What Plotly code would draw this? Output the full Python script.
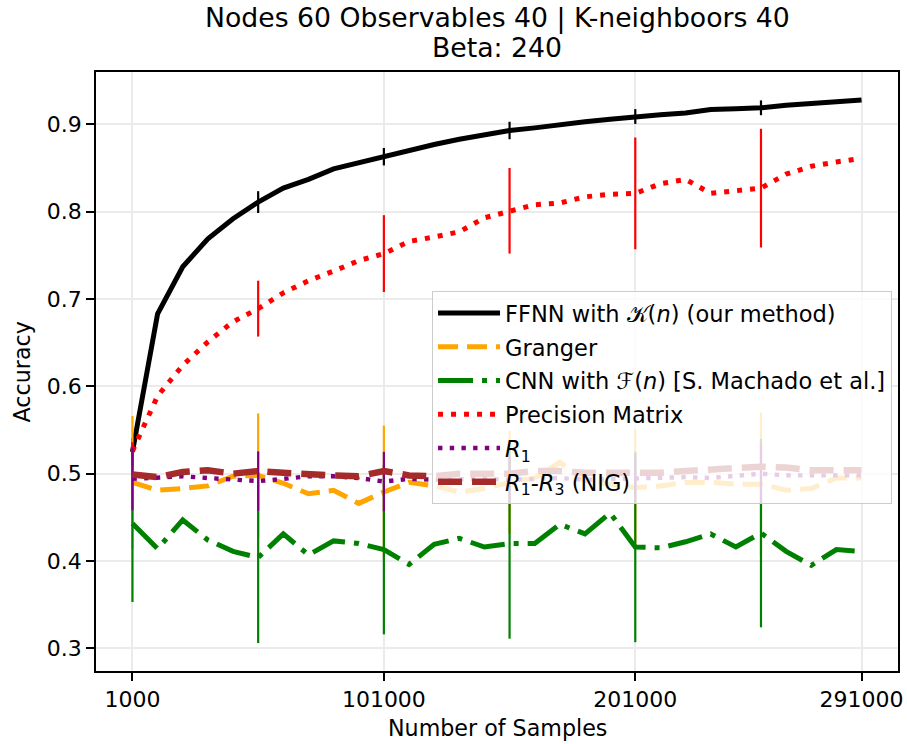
import plotly.graph_objects as go

samples = [1000 + 10000 * i for i in range(30)]

ffnn = [0.525, 0.683, 0.737, 0.769, 0.792, 0.811, 0.827, 0.837, 0.849, 0.856,
        0.863, 0.871, 0.877, 0.883, 0.888, 0.893, 0.896, 0.900, 0.903, 0.906,
        0.909, 0.911, 0.913, 0.917, 0.918, 0.919, 0.922, 0.924, 0.927, 0.928]
ffnn_err = [0.016, 0, 0, 0, 0, 0.0125, 0, 0, 0, 0, 0.010, 0, 0, 0, 0, 0.010, 0, 0, 0, 0,
            0.0085, 0, 0, 0, 0, 0.0085, 0, 0, 0, 0]

granger = [0.490, 0.481, 0.483, 0.486, 0.497, 0.498, 0.489, 0.477, 0.481, 0.466,
           0.479, 0.490, 0.486, 0.479, 0.483, 0.490, 0.495, 0.513, 0.492, 0.488,
           0.484, 0.486, 0.490, 0.490, 0.488, 0.488, 0.481, 0.483, 0.495, 0.495]
granger_err = [0.076, 0, 0, 0, 0, 0.071, 0, 0, 0, 0, 0.076, 0, 0, 0, 0, 0.059, 0, 0, 0, 0,
               0.067, 0, 0, 0, 0, 0.082, 0, 0, 0, 0]

cnn = [0.443, 0.414, 0.447, 0.424, 0.411, 0.404, 0.431, 0.407, 0.423, 0.420,
       0.413, 0.396, 0.419, 0.426, 0.416, 0.420, 0.420, 0.442, 0.431, 0.455,
       0.416, 0.415, 0.422, 0.431, 0.416, 0.432, 0.411, 0.395, 0.413, 0.411]
cnn_err = [0.090, 0, 0, 0, 0, 0.098, 0, 0, 0, 0, 0.097, 0, 0, 0, 0, 0.109, 0, 0, 0, 0,
           0.109, 0, 0, 0, 0, 0.108, 0, 0, 0, 0]

precision = [0.526, 0.589, 0.624, 0.651, 0.674, 0.689, 0.707, 0.721, 0.732, 0.744,
             0.752, 0.766, 0.771, 0.777, 0.793, 0.801, 0.808, 0.810, 0.817, 0.820,
             0.821, 0.832, 0.837, 0.821, 0.824, 0.827, 0.843, 0.852, 0.857, 0.861]
precision_err = [0.010, 0, 0, 0, 0, 0.032, 0, 0, 0, 0, 0.044, 0, 0, 0, 0, 0.049, 0, 0, 0, 0,
                 0.064, 0, 0, 0, 0, 0.068, 0, 0, 0, 0]

r1 = [0.494, 0.495, 0.497, 0.495, 0.493, 0.4915, 0.494, 0.497, 0.497, 0.495,
      0.491, 0.494, 0.493, 0.494, 0.494, 0.493, 0.494, 0.495, 0.493, 0.494,
      0.495, 0.495, 0.496, 0.495, 0.498, 0.500, 0.498, 0.498, 0.498, 0.498]
r1_err = [0.036, 0, 0, 0, 0, 0.034, 0, 0, 0, 0, 0.034, 0, 0, 0, 0, 0.028, 0, 0, 0, 0,
          0.028, 0, 0, 0, 0, 0.034, 0, 0, 0, 0]

r1r3 = [0.499, 0.496, 0.502, 0.504, 0.500, 0.503, 0.501, 0.499, 0.498, 0.497,
        0.503, 0.498, 0.497, 0.500, 0.500, 0.500, 0.503, 0.503, 0.501, 0.501,
        0.500, 0.501, 0.503, 0.505, 0.506, 0.508, 0.507, 0.504, 0.504, 0.504]

x_ticks = [1000, 101000, 201000, 291000]
y_ticks = [0.3, 0.4, 0.5, 0.6, 0.7, 0.8, 0.9]

FONT = "DejaVu Sans"

series = [
    ("FFNN with 𝒦(<i>n</i>) (our method)", ffnn, ffnn_err, "#000000", 5, "solid"),
    ("Granger", granger, granger_err, "#ffa500", 5, "20px,9px"),
    ("CNN with ℱ(<i>n</i>) [S. Machado et al.]", cnn, cnn_err, "#008000", 5, "35px,9px,5px,9px"),
    ("Precision Matrix", precision, precision_err, "#ff0000", 5, "5px,8px"),
    ("<i>R</i><sub>1</sub>", r1, r1_err, "#800080", 4.4, "4.4px,7.3px"),
    ("<i>R</i><sub>1</sub>-<i>R</i><sub>3</sub> (NIG)", r1r3, None, "#a52a2a", 6.5, "24px,10px"),
]

fig = go.Figure()
for k, (name, ys, err, color, width, dash) in enumerate(series):
    kw = {}
    if err is not None:
        kw["error_y"] = dict(type="data", array=err, visible=True, color=color,
                             thickness=2.2, width=0)
    fig.add_trace(go.Scatter(x=samples, y=ys, name=name, mode="lines", legendgroup=f"g{k}",
                             line=dict(color=color, width=width, dash=dash), **kw))

axis_common = dict(showline=True, mirror=True, linecolor="black", linewidth=1.8,
                   ticks="outside", ticklen=8, tickwidth=1.8, tickcolor="black",
                   showgrid=True, gridcolor="#ebebeb", gridwidth=1.5, zeroline=False,
                   automargin=False,
                   tickfont=dict(family=FONT, size=22, color="black"))

fig.update_layout(
    width=907, height=744,
    margin=dict(l=96, r=9, t=72, b=73, autoexpand=False),
    paper_bgcolor="white", plot_bgcolor="white",
    font=dict(family=FONT, size=22, color="black"),
    showlegend=True,
    legend=dict(x=0.419, y=0.6345, xanchor="left", yanchor="top",
                bgcolor="rgba(255,255,255,0.8)", bordercolor="#cccccc", borderwidth=1,
                font=dict(family=FONT, size=22.5, color="black"),
                itemwidth=62, tracegroupgap=1.5),
    xaxis=dict(range=[-13500, 305500], tickvals=x_ticks,
               ticktext=[str(v) for v in x_ticks], **axis_common),
    yaxis=dict(range=[0.274, 0.96], tickvals=y_ticks,
               ticktext=[f"{v:.1f}" for v in y_ticks], **axis_common),
    annotations=[
        dict(text="Nodes 60 Observables 40 | K-neighboors 40", xref="paper", yref="paper",
             x=0.5, y=1.0902, xanchor="center", yanchor="middle", showarrow=False,
             font=dict(family=FONT, size=26.7, color="black")),
        dict(text="Beta: 240", xref="paper", yref="paper",
             x=0.5, y=1.0417, xanchor="center", yanchor="middle", showarrow=False,
             font=dict(family=FONT, size=26.7, color="black")),
        dict(text="Number of Samples", xref="paper", yref="paper",
             x=0.5, y=-0.0952, xanchor="center", yanchor="middle", showarrow=False,
             font=dict(family=FONT, size=22.2, color="black")),
        dict(text="Accuracy", xref="paper", yref="paper", textangle=-90,
             x=-0.0923, y=0.5, xanchor="center", yanchor="middle", showarrow=False,
             font=dict(family=FONT, size=22.2, color="black")),
    ],
)

fig.write_html("out.html")
